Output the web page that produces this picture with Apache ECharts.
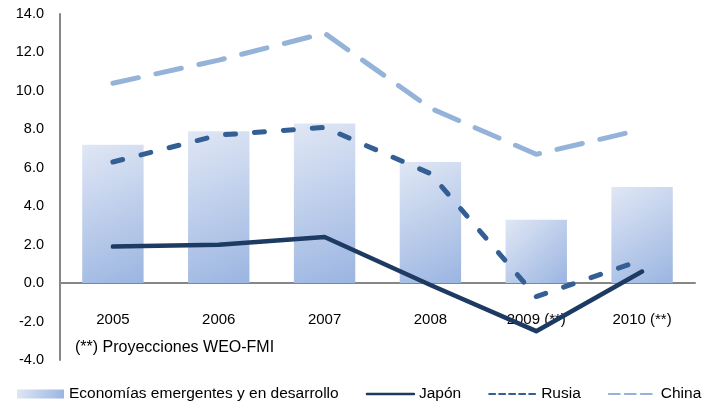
<!DOCTYPE html>
<html>
<head>
<meta charset="utf-8">
<script src="https://cdn.jsdelivr.net/npm/echarts@6/dist/echarts.min.js"></script>
<style>
html,body{margin:0;padding:0;background:#fff;}
#c{width:710px;height:402px;}
</style>
</head>
<body>
<div id="c"></div>
<script>
var categories = ['2005', '2006', '2007', '2008', '2009 (**)', '2010 (**)'];
var emergentes = [7.2, 7.9, 8.3, 6.3, 3.3, 5.0];
var japon = [1.9, 2.0, 2.4, -0.1, -2.5, 0.6];
var rusia = [6.3, 7.7, 8.1, 5.7, -0.7, 1.2];
var china = [10.4, 11.6, 13.0, 9.1, 6.7, 8.0];
var seriesNames = ['Economías emergentes y en desarrollo', 'Japón', 'Rusia', 'China'];
var noteText = '(**) Proyecciones WEO-FMI';

var REG = '"Liberation Sans", Arial, sans-serif';

var chart = echarts.init(document.getElementById('c'), null, {renderer: 'canvas'});
var barGrad = new echarts.graphic.LinearGradient(0, 0, 1, 1, [
  {offset: 0, color: '#e0e7f5'},
  {offset: 1, color: '#9bb5e1'}
]);
chart.setOption({
  animation: false,
  backgroundColor: '#ffffff',
  grid: {left: 60, right: 15, top: 14, bottom: 42, containLabel: false},
  legend: {
    left: 12, top: 381,
    itemWidth: 47, itemHeight: 9, itemGap: 27,
    textStyle: {fontFamily: REG, fontSize: 15.5, color: '#000'},
    data: [
      {name: seriesNames[0], icon: 'rect'},
      {name: seriesNames[1], itemStyle: {opacity: 0}, lineStyle: {width: 2.5, type: 'solid'}},
      {name: seriesNames[2], itemStyle: {opacity: 0}, lineStyle: {width: 2, type: [6, 4]}},
      {name: seriesNames[3], itemStyle: {opacity: 0}, lineStyle: {width: 2, type: [11, 5]}}
    ]
  },
  xAxis: {
    type: 'category',
    data: categories,
    axisLine: {show: true, onZero: true, lineStyle: {color: '#868686', width: 2}},
    axisTick: {show: false},
    axisLabel: {margin: -48, fontFamily: REG, fontSize: 15, color: '#000'},
    splitLine: {show: false}
  },
  yAxis: {
    type: 'value',
    min: -4, max: 14, interval: 2,
    axisLine: {show: true, lineStyle: {color: '#868686', width: 2}},
    axisTick: {show: false},
    splitLine: {show: false},
    axisLabel: {
      margin: 16, fontFamily: REG, fontSize: 14.5, color: '#000',
      padding: [6, 0, 0, 0],
      formatter: function (v) { return v.toFixed(1); }
    }
  },
  series: [
    {
      name: seriesNames[0], type: 'bar', data: emergentes,
      barCategoryGap: '42%',
      itemStyle: {color: barGrad}
    },
    {
      name: seriesNames[1], type: 'line', data: japon,
      symbol: 'none', color: '#1d3a62',
      lineStyle: {width: 4.5, color: '#1d3a62', cap: 'round', join: 'round'}
    },
    {
      name: seriesNames[2], type: 'line', data: rusia,
      symbol: 'none', color: '#335f94',
      lineStyle: {width: 5, color: '#335f94', type: [10, 19], cap: 'round', join: 'round'}
    },
    {
      name: seriesNames[3], type: 'line', data: china,
      symbol: 'none', color: '#95b3d9',
      lineStyle: {width: 5, color: '#95b3d9', type: [26, 18], cap: 'round', join: 'round'}
    }
  ],
  graphic: [
    {
      type: 'text', left: 75, top: 340,
      style: {text: noteText, font: '16px ' + REG, fill: '#000'}
    }
  ]
});
</script>
</body>
</html>
